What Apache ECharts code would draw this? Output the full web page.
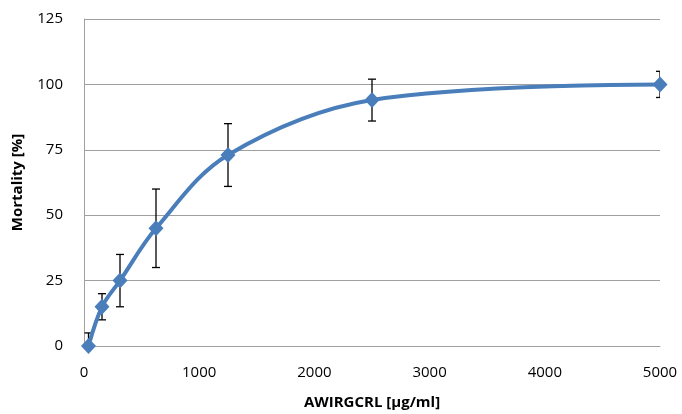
<!DOCTYPE html>
<html>
<head>
<meta charset="utf-8">
<script src="https://cdn.jsdelivr.net/npm/echarts@6/dist/echarts.min.js"></script>
<style>
  html, body { margin: 0; padding: 0; background: #fff; }
  #box { width: 682px; height: 414px; }
</style>
</head>
<body>
<div id="box"></div>
<script>
// doses (µg/ml) and mean mortality
let doses = [39.06, 156.25, 312.5, 625, 1250, 2500, 5000];
let mortality = [0, 15, 25, 45, 73, 94, 100];
// error bar half-widths
let errors = [5, 5, 10, 15, 12, 8, 5];

let chart = echarts.init(document.getElementById("box"), null, { renderer: "canvas" });

let lineData = doses.map((d, i) => [d, mortality[i]]);
let errData = doses.map((d, i) => [d, mortality[i] - errors[i], mortality[i] + errors[i]]);

let font = "'Open Sans', 'Liberation Sans', sans-serif";

let option = {
  animation: false,
  grid: { left: 84, right: 22, top: 19, bottom: 68, containLabel: false, outerBoundsMode: "none" },
  xAxis: {
    type: "value",
    min: 0,
    max: 5000,
    interval: 1000,
    name: "AWIRGCRL [µg/ml]",
    nameLocation: "middle",
    nameGap: 49,
    nameTextStyle: { fontFamily: font, fontWeight: "bold", fontSize: 15, color: "#000" },
    axisLine: { show: true, lineStyle: { color: "#a0a0a0", width: 1 } },
    axisTick: { show: false },
    splitLine: { show: false },
    axisLabel: {
      fontFamily: font, fontSize: 15, color: "#000", margin: 19,
      formatter: v => String(v)
    }
  },
  yAxis: {
    type: "value",
    min: 0,
    max: 125,
    interval: 25,
    name: "Mortality [%]",
    nameLocation: "middle",
    nameGap: 59,
    nameRotate: 90,
    nameTextStyle: { fontFamily: font, fontWeight: "bold", fontSize: 15, color: "#000" },
    axisLine: { show: true, lineStyle: { color: "#a0a0a0", width: 1 } },
    axisTick: { show: false },
    splitLine: { show: true, lineStyle: { color: "#a0a0a0", width: 1 } },
    axisLabel: { fontFamily: font, fontSize: 15, color: "#000", margin: 21 }
  },
  series: [
    {
      type: "custom",
      z: 1,
      clip: true,
      data: errData,
      renderItem: function (params, api) {
        let x = api.value(0);
        let lo = api.coord([x, api.value(1)]);
        let hi = api.coord([x, api.value(2)]);
        let cap = 4;
        let style = { stroke: "#000", lineWidth: 1.3 };
        return {
          type: "group",
          children: [
            { type: "line", shape: { x1: lo[0], y1: lo[1], x2: hi[0], y2: hi[1] }, style: style },
            { type: "line", shape: { x1: hi[0] - cap, y1: hi[1], x2: hi[0] + cap, y2: hi[1] }, style: style },
            { type: "line", shape: { x1: lo[0] - cap, y1: lo[1], x2: lo[0] + cap, y2: lo[1] }, style: style }
          ]
        };
      }
    },
    {
      type: "line",
      z: 2,
      data: lineData,
      smooth: 0.35,
      symbol: "diamond",
      symbolSize: [15, 16],
      lineStyle: { color: "#4a7ebb", width: 4 },
      itemStyle: { color: "#4a7ebb" }
    }
  ]
};

chart.setOption(option);
</script>
</body>
</html>
